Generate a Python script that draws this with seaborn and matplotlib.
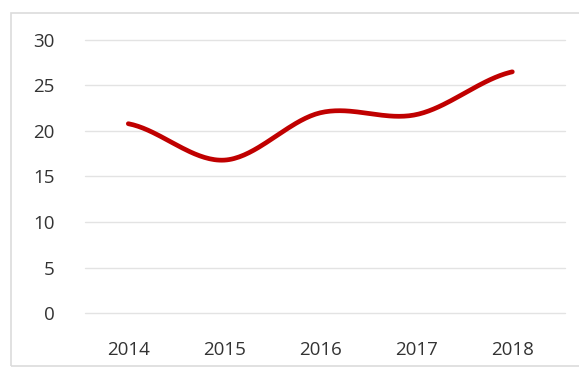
import matplotlib
matplotlib.use('Agg')
import matplotlib.pyplot as plt
import seaborn as sns
import numpy as np
import pandas as pd
from matplotlib.patches import Rectangle

# 값
years = ['2014', '2015', '2016', '2017', '2018']
values = [20.8, 16.8, 22.0, 21.8, 26.5]
y_ticks = [0, 5, 10, 15, 20, 25, 30]

sns.set_theme(style='white')
plt.rcParams['font.family'] = ['Open Sans', 'DejaVu Sans']


# 엑셀식 부드러운 선 (Catmull-Rom 스플라인)
def smooth(xs, ys, steps=40):
    px = np.array(xs, float)
    py = np.array(ys, float)
    px = np.concatenate([[2 * px[0] - px[1]], px, [2 * px[-1] - px[-2]]])
    py = np.concatenate([[py[0]], py, [py[-1]]])
    outx, outy = [], []
    for i in range(1, len(px) - 2):
        t = np.linspace(0, 1, steps)
        for arr, out in ((px, outx), (py, outy)):
            p0, p1, p2, p3 = arr[i - 1], arr[i], arr[i + 1], arr[i + 2]
            m1 = (p2 - p0) / 2
            m2 = (p3 - p1) / 2
            h00 = 2 * t**3 - 3 * t**2 + 1
            h10 = t**3 - 2 * t**2 + t
            h01 = -2 * t**3 + 3 * t**2
            h11 = t**3 - t**2
            out.extend(h00 * p1 + h10 * m1 + h01 * p2 + h11 * m2)
    return np.array(outx), np.array(outy)


pos = list(range(len(years)))
sx, sy = smooth(pos, values)
df = pd.DataFrame({'x': sx, 'y': sy})

fig = plt.figure(figsize=(5.79, 3.70), dpi=100)
fig.patches.append(Rectangle((11 / 579, 0.01), 0.99, 1 - 13 / 370 - 0.01,
                             transform=fig.transFigure, fill=False,
                             edgecolor='#dcdcdc', linewidth=1.2))
ax = fig.add_axes([0.147, 0.154, 0.829, 0.738])

sns.lineplot(data=df, x='x', y='y', ax=ax, color='#c00000', linewidth=3.4,
             sort=False, estimator=None)

ax.set_xlim(-0.45, 4.55)
ax.set_ylim(0, 30)
ax.set_yticks(y_ticks)
ax.set_xticks(pos)
ax.set_xticklabels(years)
ax.grid(axis='y', color='#e3e3e3', linewidth=1)
ax.grid(axis='x', visible=False)
for g in ax.get_ygridlines():
    g.set_clip_on(False)
for s in ax.spines.values():
    s.set_visible(False)
ax.tick_params(axis='both', length=0, labelsize=13.5, colors='#333333')
ax.tick_params(axis='y', pad=22)
ax.tick_params(axis='x', pad=20)
ax.set_xlabel('')
ax.set_ylabel('')

fig.savefig('out.png', dpi=100)
